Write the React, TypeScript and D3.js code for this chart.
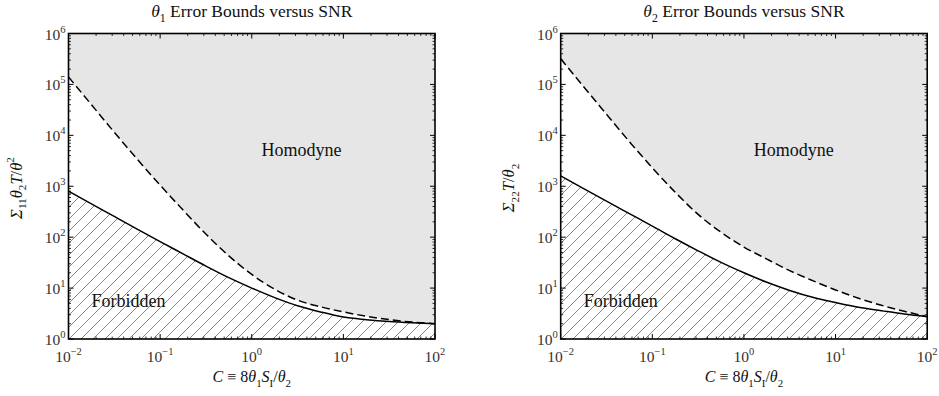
import React from 'react';
import * as d3 from 'd3';

// ---- data ----
const C_VALUES = [0.01, 0.0178, 0.0316, 0.0562, 0.1, 0.178, 0.316, 0.562, 1, 1.78, 3.16, 5.62, 10, 17.8, 31.6, 56.2, 100];
const THETA1_BOUND = [800, 452, 255, 144, 82, 47, 27, 16, 10, 6.5, 4.5, 3.4, 2.7, 2.4, 2.2, 2.08, 2.0];
const THETA1_HOMODYNE = [140000, 40000, 11500, 3400, 1050, 340, 115, 43, 18.5, 9.5, 5.8, 4.3, 3.4, 2.8, 2.4, 2.15, 2.0];
const THETA2_BOUND = [1600, 900, 510, 290, 165, 93, 54, 32, 20, 13, 9, 6.6, 5.2, 4.2, 3.6, 3.1, 2.75];
const THETA2_HOMODYNE = [320000, 90000, 26000, 7500, 2300, 760, 280, 125, 64, 37, 22, 14, 9.2, 6.3, 4.6, 3.5, 2.75];
const X_TICK_EXPONENTS = ['−2', '−1', '0', '1', '2'];
const Y_TICK_EXPONENTS = ['0', '1', '2', '3', '4', '5', '6'];
const TITLES = ['Error Bounds versus SNR', 'Error Bounds versus SNR'];
const REGION_LABELS = ['Homodyne', 'Forbidden'];

const FONT = '"Liberation Serif", "Times New Roman", "DejaVu Serif", serif';

type Seg = { t: string; it?: boolean; sub?: boolean; sup?: boolean };

function MathText({ segs, size, ...rest }: { segs: Seg[]; size: number; [k: string]: any }) {
  let shift = 0;
  return (
    <text fontFamily={FONT} fontSize={size} {...rest}>
      {segs.map((s, i) => {
        const target = s.sub ? size * 0.3 : s.sup ? -size * 0.45 : 0;
        const dy = target - shift;
        shift = target;
        return (
          <tspan key={i} dy={dy} fontStyle={s.it ? 'italic' : 'normal'} fontSize={s.sub || s.sup ? size * 0.68 : size}>
            {s.t}
          </tspan>
        );
      })}
    </text>
  );
}

const TOP = 33.5;
const BOTTOM = 339;
const WIDTH = 366.5;

function Panel({ left, idx, title, yLabel, bound, homodyne }: any) {
  const x = d3.scaleLog().domain([0.01, 100]).range([left, left + WIDTH]);
  const y = d3.scaleLog().domain([1, 1e6]).range([BOTTOM, TOP]);
  const pts = (vals: number[]) => C_VALUES.map((c, i) => [c, vals[i]] as [number, number]);
  const line = d3.line<[number, number]>().x(d => x(d[0])).y(d => y(d[1])).curve(d3.curveMonotoneX);
  const grayArea = d3.area<[number, number]>().x(d => x(d[0])).y0(TOP).y1(d => y(d[1])).curve(d3.curveMonotoneX);
  const hatchArea = d3.area<[number, number]>().x(d => x(d[0])).y0(BOTTOM).y1(d => y(d[1])).curve(d3.curveMonotoneX);

  const xMajor = d3.range(-2, 3).map(e => Math.pow(10, e));
  const xMinor: number[] = [];
  for (let e = -2; e < 2; e++) for (let m = 2; m <= 9; m++) xMinor.push(m * Math.pow(10, e));
  const yMajor = d3.range(0, 7).map(e => Math.pow(10, e));
  const yMinor: number[] = [];
  for (let e = 0; e < 6; e++) for (let m = 2; m <= 9; m++) yMinor.push(m * Math.pow(10, e));
  const right = left + WIDTH;
  const pid = `hatch${idx}`;
  const cx = left + WIDTH / 2;

  return (
    <g>
      <defs>
        <pattern id={pid} patternUnits="userSpaceOnUse" width={12} height={12}>
          <path d="M0,12 L12,0 M-3,3 L3,-3 M9,15 L15,9" stroke="#555" strokeWidth={0.7} />
        </pattern>
        <clipPath id={`clip${idx}`}>
          <rect x={left} y={TOP} width={WIDTH} height={BOTTOM - TOP} />
        </clipPath>
      </defs>
      <g clipPath={`url(#clip${idx})`}>
        <path d={grayArea(pts(homodyne)) || ''} fill="#e6e6e6" />
        <path d={hatchArea(pts(bound)) || ''} fill={`url(#${pid})`} />
        <path d={line(pts(homodyne)) || ''} fill="none" stroke="#000" strokeWidth={1.5} strokeDasharray="8,4" />
        <path d={line(pts(bound)) || ''} fill="none" stroke="#000" strokeWidth={1.5} />
      </g>
      {xMajor.map((v, i) => (
        <g key={'xM' + i}>
          <line x1={x(v)} x2={x(v)} y1={BOTTOM} y2={BOTTOM - 5} stroke="#000" />
          <line x1={x(v)} x2={x(v)} y1={TOP} y2={TOP + 5} stroke="#000" />
        </g>
      ))}
      {xMinor.map((v, i) => (
        <g key={'xm' + i}>
          <line x1={x(v)} x2={x(v)} y1={BOTTOM} y2={BOTTOM - 2.5} stroke="#000" strokeWidth={0.8} />
          <line x1={x(v)} x2={x(v)} y1={TOP} y2={TOP + 2.5} stroke="#000" strokeWidth={0.8} />
        </g>
      ))}
      {yMajor.map((v, i) => (
        <g key={'yM' + i}>
          <line x1={left} x2={left + 5} y1={y(v)} y2={y(v)} stroke="#000" />
          <line x1={right} x2={right - 5} y1={y(v)} y2={y(v)} stroke="#000" />
        </g>
      ))}
      {yMinor.map((v, i) => (
        <g key={'ym' + i}>
          <line x1={left} x2={left + 2.5} y1={y(v)} y2={y(v)} stroke="#000" strokeWidth={0.8} />
          <line x1={right} x2={right - 2.5} y1={y(v)} y2={y(v)} stroke="#000" strokeWidth={0.8} />
        </g>
      ))}
      <rect x={left} y={TOP} width={WIDTH} height={BOTTOM - TOP} fill="none" stroke="#000" strokeWidth={1.6} />
      {xMajor.map((v, i) => (
        <MathText key={'xl' + i} segs={[{ t: '10' }, { t: X_TICK_EXPONENTS[i], sup: true }]} size={15.5}
          x={x(v)} y={BOTTOM + 23} textAnchor="middle" fill="#333" />
      ))}
      {yMajor.map((v, i) => (
        <MathText key={'yl' + i} segs={[{ t: '10' }, { t: Y_TICK_EXPONENTS[i], sup: true }]} size={15.5}
          x={left - 3} y={y(v) + 6} textAnchor="end" fill="#333" />
      ))}
      <MathText segs={[{ t: 'θ', it: true }, { t: String(idx + 1), sub: true }, { t: ' ' + title }]} size={17.5}
        x={cx} y={17} textAnchor="middle" fill="#111" />
      <MathText segs={[{ t: 'C', it: true }, { t: ' ≡ 8' }, { t: 'θ', it: true }, { t: '1', sub: true }, { t: 'S', it: true }, { t: 'I', sub: true }, { t: '/' }, { t: 'θ', it: true }, { t: '2', sub: true }]}
        size={16} x={cx} y={382} textAnchor="middle" fill="#111" />
      <MathText segs={yLabel} size={16.5} textAnchor="middle" fill="#111"
        transform={`translate(${left - 47},${188}) rotate(-90)`} />
      <text x={left + 233} y={156} fontFamily={FONT} fontSize={18} textAnchor="middle" fill="#111">{REGION_LABELS[0]}</text>
      <text x={left + 23} y={307} fontFamily={FONT} fontSize={18} textAnchor="start" fill="#111">{REGION_LABELS[1]}</text>
    </g>
  );
}

export default function App() {
  const yLabel1: Seg[] = [{ t: 'Σ', it: true }, { t: '11', sub: true }, { t: 'θ', it: true }, { t: '2', sub: true }, { t: 'T', it: true }, { t: '/' }, { t: 'θ', it: true }, { t: '2', sup: true }];
  const yLabel2: Seg[] = [{ t: 'Σ', it: true }, { t: '22', sub: true }, { t: 'T', it: true }, { t: '/' }, { t: 'θ', it: true }, { t: '2', sub: true }];
  return (
    <svg width={939} height={396} style={{ position: 'absolute', left: 0, top: 0, background: '#fff' }}>
      <rect width={939} height={396} fill="#fff" />
      <Panel left={68.5} idx={0} title={TITLES[0]} yLabel={yLabel1} bound={THETA1_BOUND} homodyne={THETA1_HOMODYNE} />
      <Panel left={560.7} idx={1} title={TITLES[1]} yLabel={yLabel2} bound={THETA2_BOUND} homodyne={THETA2_HOMODYNE} />
    </svg>
  );
}
